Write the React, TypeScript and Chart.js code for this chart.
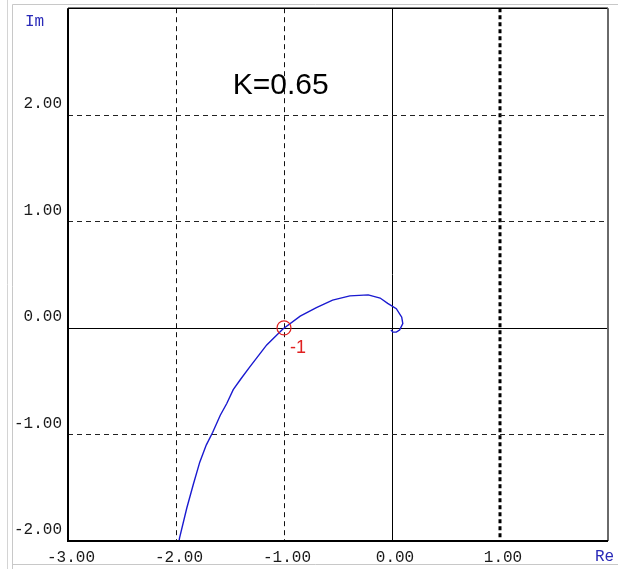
import React, { useEffect, useRef } from "react";
import { Chart, registerables } from "chart.js";

Chart.register(...registerables);

const curveRe = [-1.98, -1.967, -1.90, -1.84, -1.78, -1.72, -1.66, -1.59, -1.53, -1.47, -1.40, -1.32, -1.16, -1.01, -0.85, -0.70, -0.55, -0.39, -0.22, -0.11, -0.04, 0.04, 0.09, 0.10, 0.07, 0.04, 0.01, -0.01];
const curveIm = [-2.05, -1.97, -1.69, -1.47, -1.26, -1.10, -0.98, -0.82, -0.71, -0.58, -0.48, -0.37, -0.16, -0.01, 0.11, 0.19, 0.26, 0.30, 0.31, 0.28, 0.23, 0.18, 0.10, 0.04, -0.02, -0.04, -0.04, -0.02];

// critical point
const criticalRe = [-1];
const criticalIm = [0];
const criticalLabel = "-1";

const gainLabel = "K=0.65";
const gainPos = { x: -1.03, y: 2.27 };

const xTicks = [-3, -2, -1, 0, 1, 2];
const yTicks = [-2, -1, 0, 1, 2, 3];
const xMin = -3, xMax = 2, yMin = -2, yMax = 3;

const MONO = "'Liberation Mono', 'DejaVu Sans Mono', monospace";
const SANS = "'Liberation Sans', Arial, sans-serif";

const decorPlugin = {
  id: "decor",
  beforeDraw(chart: any) {
    const ctx = chart.ctx;
    ctx.save();
    ctx.fillStyle = "#ffffff";
    ctx.fillRect(0, 0, chart.width, chart.height);
    ctx.strokeStyle = "#d4d4d4";
    ctx.lineWidth = 1;
    ctx.beginPath();
    ctx.moveTo(7.5, 0);
    ctx.lineTo(7.5, chart.height);
    ctx.stroke();
    ctx.strokeStyle = "#c8c8c8";
    ctx.beginPath();
    ctx.moveTo(12.5, chart.height);
    ctx.lineTo(12.5, 4.5);
    ctx.lineTo(chart.width, 4.5);
    ctx.moveTo(12.5, 564.5);
    ctx.lineTo(chart.width, 564.5);
    ctx.stroke();
    ctx.restore();
  },
  beforeDatasetsDraw(chart: any) {
    const ctx = chart.ctx;
    const { left, right, top, bottom } = chart.chartArea;
    const xs = chart.scales.x;
    const ys = chart.scales.y;
    ctx.save();
    // vertical grid lines
    xTicks.forEach((v) => {
      if (v === xMin || v === xMax) return;
      const px = Math.round(xs.getPixelForValue(v));
      ctx.beginPath();
      if (v === 0) {
        ctx.setLineDash([]);
        ctx.lineWidth = 1;
        ctx.strokeStyle = "#000";
        ctx.moveTo(px + 0.5, top);
        ctx.lineTo(px + 0.5, bottom);
      } else if (v === 1) {
        ctx.setLineDash([4, 3]);
        ctx.lineWidth = 3;
        ctx.strokeStyle = "#000";
        ctx.moveTo(px, top);
        ctx.lineTo(px, bottom);
      } else {
        ctx.setLineDash([5, 4]);
        ctx.lineWidth = 1;
        ctx.strokeStyle = "#111";
        ctx.moveTo(px + 0.5, top);
        ctx.lineTo(px + 0.5, bottom);
      }
      ctx.stroke();
    });
    // horizontal grid lines
    yTicks.forEach((v) => {
      if (v === yMin || v === yMax) return;
      const py = Math.round(ys.getPixelForValue(v));
      ctx.beginPath();
      if (v === 0) {
        ctx.setLineDash([]);
        ctx.strokeStyle = "#000";
      } else {
        ctx.setLineDash([5, 4]);
        ctx.strokeStyle = "#222";
      }
      ctx.lineWidth = 1;
      ctx.moveTo(left, py + 0.5);
      ctx.lineTo(right, py + 0.5);
      ctx.stroke();
    });
    ctx.setLineDash([]);
    // gain text
    ctx.fillStyle = "#000";
    ctx.font = `30px ${SANS}`;
    ctx.textAlign = "center";
    ctx.textBaseline = "middle";
    ctx.fillText(gainLabel, xs.getPixelForValue(gainPos.x), ys.getPixelForValue(gainPos.y));
    // critical point label
    ctx.fillStyle = "#e02020";
    ctx.font = `18px ${SANS}`;
    ctx.textAlign = "left";
    ctx.fillText(criticalLabel, xs.getPixelForValue(criticalRe[0]) + 6, ys.getPixelForValue(criticalIm[0]) + 20);
    ctx.restore();
  },
  afterDatasetsDraw(chart: any) {
    const ctx = chart.ctx;
    const { left, right, top, bottom } = chart.chartArea;
    ctx.save();
    ctx.setLineDash([]);
    // top border
    ctx.strokeStyle = "#000";
    ctx.lineWidth = 1.5;
    ctx.beginPath();
    ctx.moveTo(left, top);
    ctx.lineTo(right, top);
    ctx.stroke();
    // right border
    ctx.strokeStyle = "#6a6a6a";
    ctx.lineWidth = 2;
    ctx.beginPath();
    ctx.moveTo(right, top);
    ctx.lineTo(right, bottom);
    ctx.stroke();
    // left & bottom border
    ctx.strokeStyle = "#000";
    ctx.lineWidth = 2;
    ctx.beginPath();
    ctx.moveTo(left, top);
    ctx.lineTo(left, bottom);
    ctx.lineTo(right, bottom);
    ctx.stroke();
    // axis names
    ctx.fillStyle = "#2a2ab8";
    ctx.font = `16px ${MONO}`;
    ctx.textBaseline = "middle";
    ctx.textAlign = "left";
    ctx.fillText("Im", 25, 22);
    ctx.fillText("Re", 595, 557);
    ctx.restore();
  },
};

export default function App() {
  const ref = useRef<HTMLCanvasElement | null>(null);
  useEffect(() => {
    if (!ref.current) return;
    const curve = curveRe.map((x, i) => ({ x, y: curveIm[i] }));
    const crit = criticalRe.map((x, i) => ({ x, y: criticalIm[i] }));
    const chart = new Chart(ref.current, {
      type: "scatter",
      data: {
        datasets: [
          {
            data: crit,
            showLine: false,
            pointRadius: 7,
            pointHoverRadius: 7,
            pointBorderWidth: 1.2,
            pointBorderColor: "#e02020",
            pointBackgroundColor: "rgba(0,0,0,0)",
          },
          {
            data: curve,
            showLine: true,
            borderColor: "#1a1ad0",
            borderWidth: 1.4,
            pointRadius: 0,
            tension: 0,
            fill: false,
          },
        ],
      },
      options: {
        animation: false,
        responsive: false,
        maintainAspectRatio: false,
        layout: { padding: { left: 8, right: 10, top: 7, bottom: 0 } },
        plugins: { legend: { display: false }, tooltip: { enabled: false } },
        scales: {
          x: {
            type: "linear",
            min: xMin,
            max: xMax,
            afterBuildTicks: (s: any) => {
              s.ticks = xTicks.map((v) => ({ value: v }));
            },
            afterFit: (s: any) => {
              s.height = 28;
              s.paddingLeft = 0;
              s.paddingRight = 0;
            },
            grid: { display: false, drawTicks: false },
            border: { display: false },
            ticks: {
              autoSkip: false,
              maxRotation: 0,
              padding: 7,
              labelOffset: 3,
              color: "#1a1a1a",
              font: { family: MONO, size: 16 },
              callback: (v: any) => (v === xMax ? "" : Number(v).toFixed(2)),
            },
          },
          y: {
            type: "linear",
            min: yMin,
            max: yMax,
            afterBuildTicks: (s: any) => {
              s.ticks = yTicks.map((v) => ({ value: v }));
            },
            afterFit: (s: any) => {
              s.width = 60;
              s.paddingTop = 0;
              s.paddingBottom = 0;
            },
            grid: { display: false, drawTicks: false },
            border: { display: false },
            ticks: {
              autoSkip: false,
              padding: 6,
              labelOffset: -11,
              color: "#1a1a1a",
              font: { family: MONO, size: 16 },
              callback: (v: any) => (v === yMax ? "" : Number(v).toFixed(2)),
            },
          },
        },
      },
      plugins: [decorPlugin],
    });
    return () => chart.destroy();
  }, []);
  return (
    <div style={{ position: "fixed", left: 0, top: 0, width: 618, height: 569, background: "#fff" }}>
      <canvas ref={ref} width={618} height={569} style={{ display: "block", width: 618, height: 569 }} />
    </div>
  );
}
